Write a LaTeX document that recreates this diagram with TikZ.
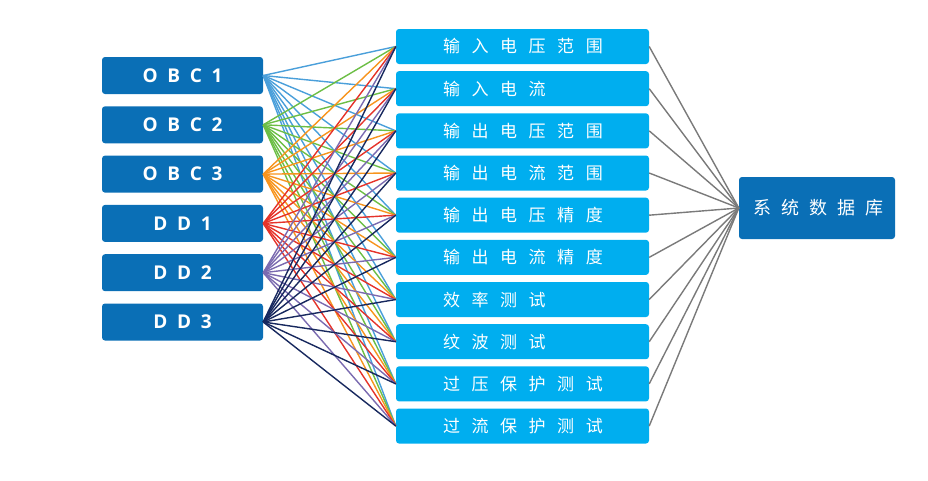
\documentclass[tikz,border=0pt]{standalone}
\usepackage{fontspec}
\newfontfamily\itemfont[LetterSpace=68]{Noto Sans CJK SC}
\newfontfamily\dbfont[LetterSpace=55]{Noto Sans CJK SC}
\newfontfamily\srcfont[LetterSpace=51]{Open Sans}
\usetikzlibrary{positioning}

\definecolor{boxdark}{HTML}{0A6FB6}
\definecolor{boxlight}{HTML}{00AEEF}
\definecolor{wireobcA}{HTML}{4A9FDA}
\definecolor{wireobcB}{HTML}{6CBE45}
\definecolor{wireobcC}{HTML}{F7941D}
\definecolor{wireddA}{HTML}{E5332A}
\definecolor{wireddB}{HTML}{7A6AB0}
\definecolor{wireddC}{HTML}{17285E}
\definecolor{wiredb}{HTML}{7A7A7A}

\tikzset{
    srcbox/.style={fill=boxdark, rounded corners=3pt, inner sep=0pt,
        minimum width=161pt, minimum height=37pt, text=white,
        font=\srcfont\bfseries\fontsize{19}{19}\selectfont},
    itembox/.style={fill=boxlight, rounded corners=3pt, inner sep=0pt,
        minimum height=35pt, text width=253pt, align=left, text=white,
        font=\itemfont\fontsize{17}{17}\selectfont},
    dbbox/.style={fill=boxdark, rounded corners=3pt, inner sep=0pt,
        minimum width=156pt, minimum height=62pt, text=white,
        font=\dbfont\fontsize{18}{18}\selectfont},
    wire/.style={line width=1.4pt},
}

\begin{document}
\begin{tikzpicture}[x=1pt, y=-1pt]
    \useasboundingbox (0,0) rectangle (928,480);

    % sources
    \node[srcbox] (obc1) at (182.5,75.5) {OBC1};
    \node[srcbox] (obc2) at (182.5,124.8) {OBC2};
    \node[srcbox] (obc3) at (182.5,174.1) {OBC3};
    \node[srcbox] (dd1) at (182.5,223.4) {DD1};
    \node[srcbox] (dd2) at (182.5,272.7) {DD2};
    \node[srcbox] (dd3) at (182.5,322) {DD3};

    % test items
    \foreach \i/\txt in {1/输入电压范围, 2/输入电流, 3/输出电压范围, 4/输出电流范围,
            5/输出电压精度, 6/输出电流精度, 7/效率测试, 8/纹波测试,
            9/过压保护测试, 10/过流保护测试}
        \node[itembox] (m\i) at (522.5,{46.5+42.17*(\i-1)}) {\hspace*{47pt}\txt};

    % database
    \node[dbbox] (db) at (817,208) {\hspace*{3pt}系统数据库};

    \foreach \src/\col in {obc1/wireobcA, obc2/wireobcB, obc3/wireobcC,
            dd1/wireddA, dd2/wireddB, dd3/wireddC}
        \foreach \i in {1,...,10}
            \draw[wire, \col] (\src.east) -- (m\i.west);

    \foreach \i in {1,...,10}
        \draw[wire, wiredb] (m\i.east) -- (db.west);
\end{tikzpicture}
\end{document}
